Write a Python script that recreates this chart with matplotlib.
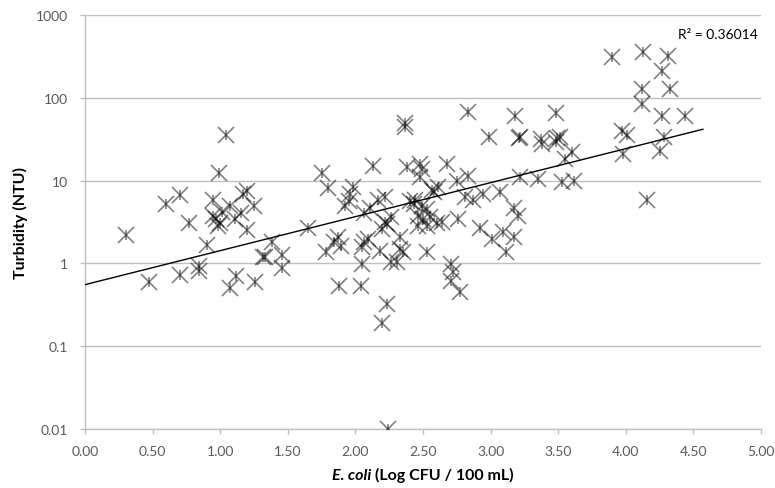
import numpy as np
import matplotlib.pyplot as plt
from matplotlib.offsetbox import TextArea, HPacker, AnchoredOffsetbox

# E. coli (log CFU / 100 mL) vs turbidity (NTU)
ecoli = [
    0.30, 0.47, 0.60, 0.70, 0.70, 0.77, 0.84, 0.84, 0.90, 0.95,
    0.95, 0.97, 0.99, 0.98, 1.00, 1.04, 1.07, 1.07, 1.11, 1.12,
    1.15, 1.17, 1.20, 1.20, 1.25, 1.26, 1.32, 1.33, 1.38, 1.46,
    1.46, 1.65, 1.75, 1.78, 1.80, 1.84, 1.87, 1.88, 1.89, 1.92,
    1.95, 1.96, 1.98, 2.04, 2.05, 2.05, 2.06, 2.06, 2.09, 2.11,
    2.13, 2.17, 2.18, 2.20, 2.20, 2.22, 2.22, 2.23, 2.23, 2.24,
    2.26, 2.26, 2.31, 2.33, 2.33, 2.35, 2.37, 2.37, 2.38, 2.40,
    2.44, 2.46, 2.46, 2.48, 2.48, 2.49, 2.49, 2.50, 2.53, 2.53,
    2.53, 2.55, 2.57, 2.60, 2.61, 2.64, 2.68, 2.71, 2.71, 2.72,
    2.75, 2.76, 2.77, 2.81, 2.83, 2.83, 2.87, 2.92, 2.94, 2.99,
    3.01, 3.07, 3.09, 3.11, 3.17, 3.17, 3.18, 3.20, 3.21, 3.22,
    3.22, 3.35, 3.37, 3.38, 3.48, 3.48, 3.49, 3.51, 3.53, 3.55,
    3.60, 3.62, 3.90, 3.97, 3.98, 4.01, 4.12, 4.12, 4.13, 4.16,
    4.25, 4.27, 4.27, 4.28, 4.31, 4.33, 4.44, 1.01, 2.43, 2.58,
]
turbidity = [
    2.2, 0.60, 5.2, 6.7, 0.72, 3.1, 0.92, 0.80, 1.65, 5.9,
    3.7, 3.4, 12.2, 2.8, 3.1, 36, 5.0, 0.51, 3.4, 0.70,
    4.1, 6.8, 7.4, 2.5, 4.9, 0.59, 1.2, 1.18, 1.8, 1.28,
    0.87, 2.7, 12.5, 1.36, 8.1, 1.8, 2.06, 0.54, 1.6, 4.9,
    5.6, 6.8, 8.3, 0.53, 1.56, 0.97, 4.1, 1.8, 1.95, 4.7,
    14.8, 5.9, 1.4, 2.6, 0.19, 6.4, 3.2, 2.95, 0.32, 0.01,
    3.6, 1.03, 1.03, 2.1, 1.48, 1.36, 50, 44, 14.4, 5.6,
    5.9, 3.7, 2.8, 15.7, 10.9, 13.7, 4.9, 3.4, 4.5, 2.8,
    1.36, 3.6, 7.8, 3.1, 8.3, 3.2, 15.7, 0.97, 0.61, 0.78,
    9.8, 3.4, 0.45, 6.3, 68, 11.5, 5.9, 2.7, 6.8, 34,
    1.95, 7.2, 2.4, 1.36, 2.1, 4.7, 60, 3.7, 33, 11.2,
    34, 10.4, 31.5, 27.5, 65, 29, 33, 34, 9.5, 18,
    22, 9.8, 308, 39.5, 20.8, 36, 126, 83, 355, 5.9,
    22.5, 208, 61, 34, 316, 126, 61, 4.2, 5.2, 7.2,
]
trend_x_range = [0.0, 4.57]
r2_label = "R\u00b2 = 0.36014"

plt.rcParams["font.family"] = ["Lato", "DejaVu Sans"]

fig = plt.figure(figsize=(7.75, 4.89), dpi=100)
ax = fig.add_axes([0.1097, 0.1207, 0.8723, 0.8466])

x = np.array(ecoli)
y = np.array(turbidity)

# exponential trendline, fitted like Excel (ln y on x)
b, a = np.polyfit(x, np.log(y), 1)
tx = np.linspace(trend_x_range[0], trend_x_range[1], 50)
ax.plot(tx, np.exp(a + b * tx), color="black", lw=1.0, zorder=3)

# Excel-style star marker: an x with a short vertical stroke
ax.plot(x, y, ls="none", marker="x", ms=11, mew=1.2,
        color="black", alpha=0.5, zorder=4)
ax.plot(x, y, ls="none", marker="|", ms=7.5, mew=1.2,
        color="black", alpha=0.5, zorder=4)

ax.set_yscale("log")
ax.set_xlim(0, 5)
ax.set_ylim(0.01, 1000)
ax.set_xticks(np.arange(0, 5.01, 0.5))
ax.set_xticklabels([f"{v:.2f}" for v in np.arange(0, 5.01, 0.5)])
ax.set_yticks([0.01, 0.1, 1, 10, 100, 1000])
ax.set_yticklabels(["0.01", "0.1", "1", "10", "100", "1000"])
ax.yaxis.set_minor_locator(plt.NullLocator())

ax.grid(axis="y", color="#bfbfbf", lw=1.0)
ax.set_axisbelow(True)
for s in ["top", "right"]:
    ax.spines[s].set_visible(False)
for s in ["left", "bottom"]:
    ax.spines[s].set_color("#bfbfbf")
    ax.spines[s].set_linewidth(1.0)
ax.tick_params(axis="both", colors="#bfbfbf", labelcolor="#595959",
               labelsize=10, length=3.5, width=1.0)
ax.tick_params(axis="x", pad=8)
ax.tick_params(axis="y", pad=8.5)

fig.text(20 / 775, 1 - 223 / 489, "Turbidity (NTU)", rotation=90,
         ha="center", va="center", fontsize=11.5, fontweight="bold",
         color="black")

xl = HPacker(children=[
    TextArea("E. coli", textprops=dict(fontsize=11.5, fontweight="bold",
                                       fontstyle="italic", color="black")),
    TextArea(" (Log CFU / 100 mL)", textprops=dict(fontsize=11.5,
                                                   fontweight="bold",
                                                   color="black")),
], pad=0, sep=0)
box = AnchoredOffsetbox(loc="upper center", child=xl, pad=0, frameon=False,
                        bbox_to_anchor=(0.5, -0.092),
                        bbox_transform=ax.transAxes, borderpad=0)
ax.add_artist(box)

ax.text(0.9955, 0.955, r2_label, transform=ax.transAxes, ha="right",
        va="center", fontsize=10, color="black")

fig.savefig("out.png", dpi=100)
